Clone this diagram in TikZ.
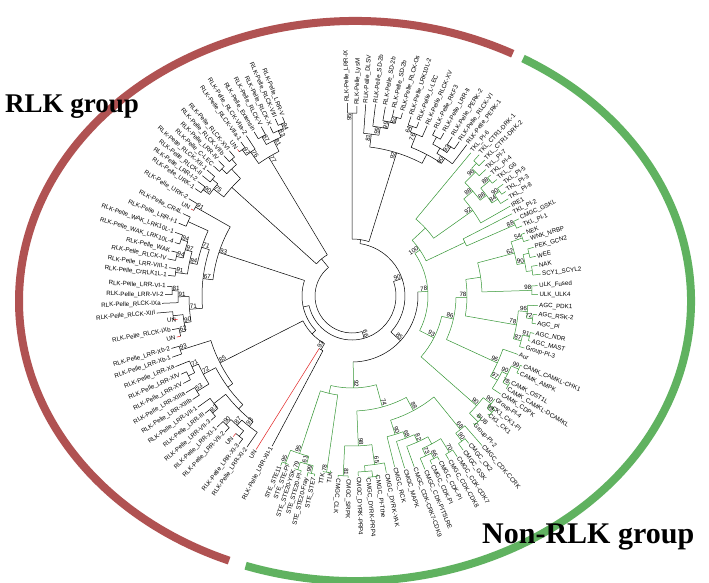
\documentclass[tikz,border=0pt]{standalone}
\usepackage{fontspec}
\setmainfont{Liberation Sans}
\newfontfamily\grpfont{Liberation Serif}
\usepackage{graphicx}
\definecolor{ringred}{RGB}{176,82,82}
\definecolor{ringgreen}{RGB}{96,178,96}
\definecolor{brgreen}{RGB}{52,150,52}
\definecolor{unred}{RGB}{226,30,30}
\tikzset{
  br/.style={line width=0.5pt},
  lab/.style={font=\fontsize{6.2}{7}\selectfont, inner sep=0.5pt},
  bsl/.style={font=\fontsize{6.2}{7}\selectfont, inner sep=0.4pt},
  grp/.style={font=\grpfont\bfseries\fontsize{27}{30}\selectfont, inner sep=0pt},
  grpbig/.style={font=\grpfont\bfseries\fontsize{30}{33}\selectfont, inner sep=0pt},
  ring/.style={line width=8pt}
}
\newif\ifleftlab
\newcommand\mysetside[1]{%
  \pgfmathsetmacro\myphi{mod(#1+720,360)}%
  \leftlabfalse
  \ifdim\myphi pt>92pt \ifdim\myphi pt<264pt \leftlabtrue\fi\fi}
\newcommand\myleaf[5]{%
  \expandafter\xdef\csname nA#1\endcsname{#2}%
  \expandafter\xdef\csname nR#1\endcsname{#3}%
  \expandafter\xdef\csname nC#1\endcsname{#5}%
  \mysetside{#2}%
  \pgfmathsetmacro\myrr{#3+0.8}%
  \ifleftlab
    \pgfmathsetmacro\myrot{#2-180}%
    \node[lab,anchor=east,rotate=\myrot] (#1) at (#2:\myrr pt) {#4};%
  \else
    \node[lab,anchor=west,rotate=#2] (#1) at (#2:\myrr pt) {#4};%
  \fi}
\newcommand\mynode[5]{%
  \gdef\ndfirst{}%
  \foreach \chid in {#4}{%
    \ifx\ndfirst\empty\xdef\ndfirst{\chid}\fi
    \xdef\ndlast{\chid}%
    \edef\chA{\csname nA\chid\endcsname}%
    \edef\chR{\csname nR\chid\endcsname}%
    \edef\chC{\csname nC\chid\endcsname}%
    \draw[br,draw=\chC] (\chA:\chR pt) -- (\chA:#2pt);%
  }%
  \edef\ndA{\csname nA\ndfirst\endcsname}%
  \edef\ndB{\csname nA\ndlast\endcsname}%
  \draw[br,draw=#3] (\ndA:#2pt) arc[start angle=\ndA, end angle=\ndB, radius=#2pt];%
  \pgfmathsetmacro\ndM{(\ndA+\ndB)/2}%
  \expandafter\xdef\csname nA#1\endcsname{\ndM}%
  \expandafter\xdef\csname nR#1\endcsname{#2}%
  \expandafter\xdef\csname nC#1\endcsname{#3}%
  \coordinate (#1) at (\ndM:#2pt);%
  \if\relax\detokenize{#5}\relax\else
    \mysetside{\ndM}%
    \ifleftlab
      \pgfmathsetmacro\myrot{\ndM-180}%
      \node[bsl,anchor=south west,rotate=\myrot] (#1-bs) at (\ndM:#2pt) {#5};%
    \else
      \node[bsl,anchor=south east,rotate=\ndM] (#1-bs) at (\ndM:#2pt) {#5};%
    \fi
  \fi}
\begin{document}
\begin{tikzpicture}
\fill[white] (-352pt,-286pt) rectangle (357pt,296pt);
\useasboundingbox (-352pt,-286pt) rectangle (357pt,296pt);
% outer ring
\draw[ring,ringred] (3pt,-5pt) ++(62:336pt and 280pt) arc[start angle=62, end angle=248, x radius=336pt, y radius=280pt];
\draw[ring,ringgreen] (3pt,-5pt) ++(251:336pt and 280pt) arc[start angle=251, end angle=420, x radius=336pt, y radius=280pt];
\node[grp,anchor=base west] (rlkg) at (-347pt,184pt) {RLK group};
\node[grpbig,anchor=base west] (nrlkg) at (130pt,-247pt) {Non-RLK group};
% ---------- leaves: top black cluster
\myleaf{LRRIX}{451.4}{193}{RLK-Pelle\_LRR-IX}{black}
\myleaf{LysM}{448.5}{190}{RLK-Pelle\_LysM}{black}
\myleaf{DLSV}{445.9}{192}{RLK-Pelle\_DLSV}{black}
\myleaf{SDa}{443.0}{193}{RLK-Pelle\_SD-2b}{black}
\myleaf{SDb}{440.0}{192}{RLK-Pelle\_SD-2b}{black}
\myleaf{SDc}{437.3}{191}{RLK-Pelle\_SD-2b}{black}
\myleaf{Os}{434.6}{190}{RLK-Pelle\_RLCK-Os}{black}
\myleaf{LRKb}{431.8}{189}{RLK-Pelle\_LRK10L-2}{black}
\myleaf{LLEC}{429.0}{186}{RLK-Pelle\_L-LEC}{black}
\myleaf{XV}{426.2}{186}{RLK-Pelle\_RLCK-XV}{black}
\myleaf{RKF}{423.4}{186}{RLK-Pelle\_RKF3}{black}
\myleaf{LRRII}{420.6}{187}{RLK-Pelle\_LRR-II}{black}
\myleaf{PERKb}{417.8}{188}{RLK-Pelle\_PERK-2}{black}
\myleaf{VI}{415.2}{188}{RLK-Pelle\_RLCK-VI}{black}
\myleaf{PERKa}{412.8}{190}{RLK-Pelle\_PERK-1}{black}
% ---------- leaves: green
\myleaf{Pl6}{410.3}{186}{TKL\_Pl-6}{brgreen}
\myleaf{CTRa}{408.0}{190}{TKL\_CTR1-DRK-1}{brgreen}
\myleaf{CTRb}{405.7}{190}{TKL\_CTR1-DRK-2}{brgreen}
\myleaf{Pl7}{403.4}{184}{TKL\_Pl-7}{brgreen}
\myleaf{Pl4}{401.1}{184}{TKL\_Pl-4}{brgreen}
\myleaf{G6}{398.8}{186}{TKL\_G6}{brgreen}
\myleaf{Pl5}{396.5}{188}{TKL\_Pl-5}{brgreen}
\myleaf{Pl3}{394.2}{186}{TKL\_Pl-3}{brgreen}
\myleaf{Pl8}{391.9}{184}{TKL\_Pl-8}{brgreen}
\myleaf{IRE}{389.6}{182}{IRE1}{brgreen}
\myleaf{Pl2}{387.2}{180}{TKL\_Pl-2}{brgreen}
\myleaf{GSKL}{384.8}{184}{CMGC\_GSKL}{brgreen}
\myleaf{Pl1}{382.4}{184}{TKL\_Pl-1}{brgreen}
\myleaf{NEK}{380.0}{184}{NEK}{brgreen}
\myleaf{WNK}{377.6}{186}{WNK\_NRBP}{brgreen}
\myleaf{PEK}{375.0}{188}{PEK\_GCN2}{brgreen}
\myleaf{WEE}{372.2}{188}{WEE}{brgreen}
\myleaf{NAK}{369.4}{188}{NAK}{brgreen}
\myleaf{SCY}{366.6}{190}{SCY1\_SCYL2}{brgreen}
\myleaf{ULKF}{363.2}{186}{ULK\_Fused}{brgreen}
\myleaf{ULKb}{360.4}{186}{ULK\_ULK4}{brgreen}
\myleaf{PDK}{357.0}{186}{AGC\_PDK1}{brgreen}
\myleaf{RSK}{354.2}{186}{AGC\_RSK-2}{brgreen}
\myleaf{AGCPl}{351.4}{186}{AGC\_Pl}{brgreen}
\myleaf{NDR}{348.4}{186}{AGC\_NDR}{brgreen}
\myleaf{MAST}{345.8}{184}{AGC\_MAST}{brgreen}
\myleaf{GPc}{343.2}{180}{Group-Pl-3}{brgreen}
\myleaf{Aur}{340.6}{176}{Aur}{brgreen}
\myleaf{CHK}{337.6}{184}{CAMK\_CAMKL-CHK1}{brgreen}
\myleaf{AMPK}{335.0}{184}{CAMK\_AMPK}{brgreen}
\myleaf{OST}{331.4}{180}{CAMK\_OST1L}{brgreen}
\myleaf{DCAM}{329.0}{180}{CAMK\_CAMKL-DCAMKL}{brgreen}
\myleaf{CDPK}{326.6}{178}{CAMK\_CDPK}{brgreen}
\myleaf{GPd}{324.2}{176}{Group-Pl-4}{brgreen}
\myleaf{CKPl}{321.5}{178}{CK1\_CK1-Pl}{brgreen}
\myleaf{CKa}{319.0}{180}{CK1\_CK1}{brgreen}
\myleaf{BUB}{316.5}{172}{BUB}{brgreen}
\myleaf{GPb}{313.6}{176}{Group-Pl-2}{brgreen}
\myleaf{CCRK}{311.0}{198}{CMGC\_CDK-CCRK}{brgreen}
\myleaf{CKb}{308.4}{188}{CMGC\_CK2}{brgreen}
\myleaf{GSK}{305.8}{190}{CMGC\_GSK}{brgreen}
\myleaf{CDKg}{303.2}{192}{CMGC\_CDK-CDK7}{brgreen}
\myleaf{CDKh}{300.6}{190}{CMGC\_CDK-CDK8}{brgreen}
\myleaf{CDKPa}{298.0}{186}{CMGC\_CDK-Pl}{brgreen}
\myleaf{CDKPb}{295.4}{186}{CMGC\_CDK-Pl}{brgreen}
\myleaf{PITS}{292.8}{188}{CMGC\_CDK-PITSLRE}{brgreen}
\myleaf{CRK}{290.0}{182}{CMGC\_CDK-CRK7-CDK9}{brgreen}
\myleaf{MAPK}{287.0}{180}{CMGC\_MAPK}{brgreen}
\myleaf{RCK}{284.0}{176}{CMGC\_RCK}{brgreen}
\myleaf{YAK}{281.0}{180}{CMGC\_DYRK-YAK}{brgreen}
\myleaf{Tthe}{278.0}{180}{CMGC\_Pl-Tthe}{brgreen}
\myleaf{PRPa}{275.0}{182}{CMGC\_DYRK-PRP4}{brgreen}
\myleaf{PRPb}{272.0}{180}{CMGC\_DYRK-PRP4}{brgreen}
\myleaf{SRPK}{268.8}{182}{CMGC\_SRPK}{brgreen}
\myleaf{CLK}{265.6}{182}{CMGC\_CLK}{brgreen}
\myleaf{TLK}{263.0}{176}{TLK}{brgreen}
\myleaf{TTK}{260.6}{178}{TTK}{brgreen}
\myleaf{STEg}{258.2}{184}{STE\_STE7}{brgreen}
\myleaf{Fray}{256.0}{186}{STE\_STE20-Fray}{brgreen}
\myleaf{STEPlb}{253.8}{184}{STE\_STE20-Pl}{brgreen}
\myleaf{YSK}{251.6}{182}{STE\_STE20-YSK}{brgreen}
\myleaf{STEPl}{249.4}{180}{STE\_STE-Pl}{brgreen}
\myleaf{STEk}{247.2}{184}{STE\_STE11}{brgreen}
% ---------- leaves: lower-left black cluster
\myleaf{XIIa}{242.0}{170}{RLK-Pelle\_LRR-XII-1}{black}
\myleaf{UNf}{238.0}{181}{UN}{unred}
\myleaf{XIb}{235.2}{184}{RLK-Pelle\_LRR-XI-2}{black}
\myleaf{XIc}{232.6}{186}{RLK-Pelle\_LRR-XI-3}{black}
\myleaf{UNe}{229.8}{184}{UN}{unred}
\myleaf{VIIbb}{227.0}{186}{RLK-Pelle\_LRR-VII-2}{black}
\myleaf{XIa}{224.2}{188}{RLK-Pelle\_LRR-XI-1}{black}
\myleaf{VIIc}{221.4}{188}{RLK-Pelle\_LRR-VII-3}{black}
\myleaf{LIII}{218.6}{188}{RLK-Pelle\_LRR-III}{black}
\myleaf{VIIaa}{215.8}{190}{RLK-Pelle\_LRR-VII-1}{black}
\myleaf{XIIIb}{213.0}{190}{RLK-Pelle\_LRR-XIIIb}{black}
\myleaf{XIIIa}{210.2}{192}{RLK-Pelle\_LRR-XIIIa}{black}
\myleaf{LXV}{207.4}{190}{RLK-Pelle\_LRR-XV}{black}
\myleaf{XIV}{204.6}{188}{RLK-Pelle\_LRR-XIV}{black}
\myleaf{Xa}{201.8}{190}{RLK-Pelle\_LRR-Xa}{black}
\myleaf{Xba}{198.8}{190}{RLK-Pelle\_LRR-Xb-1}{black}
\myleaf{Xbb}{196.2}{188}{RLK-Pelle\_LRR-Xb-2}{black}
% ---------- leaves: left black cluster
\myleaf{UNd}{193.2}{180}{UN}{unred}
\myleaf{IXb}{190.6}{183}{RLK-Pelle\_RLCK-IXb}{black}
\myleaf{UNc}{187.6}{176}{UN}{unred}
\myleaf{XIII}{185.0}{196}{RLK-Pelle\_RLCK-XIII}{black}
\myleaf{IXa}{182.2}{190}{RLK-Pelle\_RLCK-IXa}{black}
\myleaf{VIb}{179.6}{187}{RLK-Pelle\_LRR-VI-2}{black}
\myleaf{VIa}{177.0}{185}{RLK-Pelle\_LRR-VI-1}{black}
\myleaf{CrR}{173.6}{185}{RLK-Pelle\_CrRLK1L-1}{black}
\myleaf{VIII}{171.2}{185}{RLK-Pelle\_LRR-VIII-1}{black}
\myleaf{RIV}{168.6}{188}{RLK-Pelle\_RLCK-IV}{black}
\myleaf{WAK}{166.0}{186}{RLK-Pelle\_WAK}{black}
\myleaf{LKd}{163.2}{185}{RLK-Pelle\_WAK\_LRK10L-4}{black}
\myleaf{LKa}{160.2}{188}{RLK-Pelle\_WAK\_LRK10L-1}{black}
\myleaf{LRRIa}{157.2}{188}{RLK-Pelle\_LRR-I-1}{black}
\myleaf{CRL}{154.0}{188}{RLK-Pelle\_CR4L}{black}
\myleaf{UNb}{151.6}{183}{UN}{unred}
\myleaf{URKb}{149.2}{190}{RLK-Pelle\_URK-2}{black}
% ---------- leaves: upper-left black cluster
\myleaf{URKa}{145.6}{190}{RLK-Pelle\_URK-1}{black}
\myleaf{LRRIb}{143.4}{192}{RLK-Pelle\_LRR-I-2}{black}
\myleaf{RII}{141.2}{192}{RLK-Pelle\_RLCK-II}{black}
\myleaf{RXII}{139.0}{192}{RLK-Pelle\_RLCK-XII-1}{black}
\myleaf{CLEC}{136.8}{190}{RLK-Pelle\_C-LEC}{black}
\myleaf{LRRIV}{134.6}{190}{RLK-Pelle\_LRR-IV}{black}
\myleaf{VIIb}{132.4}{190}{RLK-Pelle\_RLCK-VIIb}{black}
\myleaf{XVI}{130.2}{190}{RLK-Pelle\_RLCK-XVI}{black}
\myleaf{UNa}{128.0}{186}{UN}{unred}
\myleaf{VIIa}{125.8}{190}{RLK-Pelle\_RLCK-VIIa-1}{black}
\myleaf{VIIab}{123.4}{192}{RLK-Pelle\_RLCK-VIIa-2}{black}
\myleaf{Ext}{120.8}{191}{RLK-Pelle\_Extensin}{black}
\myleaf{RV}{118.2}{192}{RLK-Pelle\_RLCK-V}{black}
\myleaf{RX}{115.8}{188}{RLK-Pelle\_RLCK-X}{black}
\myleaf{RVIII}{113.4}{193}{RLK-Pelle\_RLCK-VIII}{black}
\myleaf{LRRV}{111.2}{192}{RLK-Pelle\_LRR-V}{black}
% ---------- internal nodes: top black
\mynode{b95}{183}{black}{LRRIX,LysM}{95}
\mynode{b82}{184}{black}{SDc,Os}{82}
\mynode{b99a}{178}{black}{SDb,b82}{99}
\mynode{b99b}{171}{black}{SDa,b99a}{99}
\mynode{b81}{163}{black}{DLSV,b99b}{81}
\mynode{b64}{180}{black}{LRKb,LLEC}{64}
\mynode{b76}{174}{black}{b64,XV}{76}
\mynode{bRK}{180}{black}{RKF,LRRII}{}
\mynode{b93}{179}{black}{PERKb,VI}{93}
\mynode{b63}{172}{black}{bRK,b93}{}
\mynode{b90}{166}{black}{b63,PERKa}{90}
\mynode{bPK}{160}{black}{b76,b90}{}
\mynode{b96}{150}{black}{b81,bPK}{92}
\mynode{bTop}{57}{black}{b95,b96}{}
% upper-left black
\mynode{u94}{186}{black}{RVIII,LRRV}{94}
\mynode{u83}{181}{black}{RX,u94}{83}
\mynode{u87}{183}{black}{Ext,RV}{87}
\mynode{u81}{174}{black}{u87,u83}{81}
\mynode{u97}{183}{black}{UNa,VIIa}{97}
\mynode{u76}{176}{black}{VIIab,u97}{76}
\mynode{u77}{162}{black}{u81,u76}{77}
\mynode{ua}{182}{black}{XVI,VIIb}{}
\mynode{ub}{182}{black}{LRRIV,CLEC}{}
\mynode{uc}{175}{black}{ua,ub}{}
\mynode{ud}{182}{black}{RXII,RII}{}
\mynode{u90}{183}{black}{LRRIb,URKa}{90}
\mynode{u75}{175}{black}{ud,u90}{75}
\mynode{ue}{162}{black}{uc,u75}{}
\mynode{uUL}{48}{black}{u77,ue}{}
% left black
\mynode{l91}{180}{black}{URKb,UNb}{91}
\mynode{lCR}{180}{black}{CRL,LRRIa}{}
\mynode{l94a}{180}{black}{LKa,LKd}{94}
\mynode{l94b}{180}{black}{WAK,RIV}{94}
\mynode{l97}{173}{black}{l94a,l94b}{97}
\mynode{l91b}{178}{black}{VIII,CrR}{91}
\mynode{l84}{166}{black}{l97,l91b}{84}
\mynode{l71}{158}{black}{lCR,l84}{71}
\mynode{l81}{180}{black}{VIa,VIb}{81}
\mynode{l91c}{174}{black}{l81,IXa}{91}
\mynode{lX}{180}{black}{XIII,UNc}{}
\mynode{l62}{176}{black}{IXb,UNd}{62}
\mynode{l90}{170}{black}{lX,l62}{90}
\mynode{l71b}{163}{black}{l91c,l90}{71}
\mynode{l67}{150}{black}{l71,l71b}{67}
\mynode{l93}{140}{black}{l91,l67}{93}
% lower-left black
\mynode{d93}{180}{black}{Xbb,Xba}{93}
\mynode{dA}{182}{black}{XIV,LXV}{}
\mynode{d71}{175}{black}{Xa,dA}{71}
\mynode{d53}{182}{black}{XIIIa,XIIIb}{53}
\mynode{d72}{168}{black}{d71,d53}{72}
\mynode{d83}{182}{black}{LIII,VIIc}{83}
\mynode{dV}{175}{black}{VIIaa,d83}{}
\mynode{d90}{180}{black}{XIa,VIIbb}{90}
\mynode{dU}{180}{black}{UNe,XIc}{}
\mynode{d87}{173}{black}{d90,dU}{87}
\mynode{d93b}{166}{black}{d87,XIb}{93}
\mynode{dB}{160}{black}{dV,d93b}{}
\mynode{d85a}{154}{black}{d72,dB}{}
\mynode{d85}{148}{black}{d93,d85a}{85}
\mynode{cUX}{62}{black}{UNf,XIIa}{93}
\mynode{sA}{55}{black}{d85,cUX}{}
\mynode{sL}{50}{black}{l93,sA}{}
% green
\mynode{t1}{182}{brgreen}{CTRa,CTRb}{}
\mynode{t2}{175}{brgreen}{t1,Pl7}{96}
\mynode{t3}{180}{brgreen}{Pl4,G6}{88}
\mynode{t4}{181}{brgreen}{Pl5,Pl3}{90}
\mynode{t5}{175}{brgreen}{t4,Pl8}{84}
\mynode{t6}{168}{brgreen}{t3,t5}{88}
\mynode{t7}{160}{brgreen}{t2,t6}{88}
\mynode{t8}{148}{brgreen}{t7,IRE}{92}
\mynode{t9}{100}{brgreen}{Pl6,t8}{}
\mynode{tG}{178}{brgreen}{GSKL,Pl1}{88}
\mynode{t10}{125}{brgreen}{Pl2,tG}{}
\mynode{t11}{82}{brgreen}{t9,t10}{100}
\mynode{g54}{180}{brgreen}{NEK,WNK}{54}
\mynode{gPW}{182}{brgreen}{PEK,WEE}{}
\mynode{gNS}{182}{brgreen}{NAK,SCY}{}
\mynode{g90}{176}{brgreen}{gPW,gNS}{90}
\mynode{g62}{168}{brgreen}{g54,g90}{62}
\mynode{gULK}{180}{brgreen}{ULKF,ULKb}{98}
\mynode{g72}{182}{brgreen}{RSK,AGCPl}{72}
\mynode{g96}{176}{brgreen}{PDK,g72}{96}
\mynode{g91}{182}{brgreen}{NDR,MAST}{91}
\mynode{g87}{175}{brgreen}{g91,GPc}{87}
\mynode{gAGC}{167}{brgreen}{g96,g87}{78}
\mynode{c99}{182}{brgreen}{CHK,AMPK}{99}
\mynode{c78}{180}{brgreen}{OST,DCAM}{78}
\mynode{c90}{174}{brgreen}{c99,c78}{90}
\mynode{c97}{168}{brgreen}{c90,CDPK}{97}
\mynode{c96}{160}{brgreen}{Aur,c97}{96}
\mynode{k99}{182}{brgreen}{CKPl,CKa}{99}
\mynode{k90}{176}{brgreen}{GPd,k99}{90}
\mynode{k3}{178}{brgreen}{BUB,GPb}{}
\mynode{k4}{166}{brgreen}{k90,k3}{90}
\mynode{k5}{182}{brgreen}{CKb,GSK}{90}
\mynode{k6}{172}{brgreen}{CCRK,k5}{68}
\mynode{m1}{184}{brgreen}{CDKg,CDKh}{70}
\mynode{m2}{182}{brgreen}{CDKPa,CDKPb}{86}
\mynode{m3}{176}{brgreen}{m2,PITS}{73}
\mynode{m4}{168}{brgreen}{m1,m3}{}
\mynode{m5}{160}{brgreen}{m4,CRK}{82}
\mynode{m6}{152}{brgreen}{m5,MAPK}{68}
\mynode{m7}{145}{brgreen}{m6,RCK}{90}
\mynode{y1}{182}{brgreen}{Tthe,PRPa}{}
\mynode{y2}{176}{brgreen}{y1,PRPb}{}
\mynode{y3}{170}{brgreen}{YAK,y2}{65}
\mynode{y4}{180}{brgreen}{SRPK,CLK}{81}
\mynode{y5}{150}{brgreen}{y3,y4}{98}
\mynode{cma}{130}{brgreen}{k6,m7}{88}
\mynode{cmb}{115}{brgreen}{cma,y5}{74}
\mynode{st1}{182}{brgreen}{STEg,Fray}{99}
\mynode{st2}{182}{brgreen}{STEPlb,YSK}{79}
\mynode{st3}{174}{brgreen}{st1,st2}{61}
\mynode{st4}{180}{brgreen}{STEPl,STEk}{95}
\mynode{st5}{166}{brgreen}{st3,st4}{95}
\mynode{tt}{178}{brgreen}{TLK,TTK}{78}
\mynode{st6}{100}{brgreen}{tt,st5}{}
\mynode{gLow}{92}{brgreen}{cmb,st6}{92}
\mynode{gMa}{130}{brgreen}{g62,gULK}{}
\mynode{gMb}{115}{brgreen}{gMa,gAGC}{78}
\mynode{gMc}{104}{brgreen}{gMb,c96}{86}
\mynode{gMd}{92}{brgreen}{gMc,k4}{93}
\mynode{gUp}{76}{brgreen}{t11,gMd}{78}
\mynode{gR}{66}{black}{gLow,gUp}{85}
% centre
\mynode{sR}{53}{black}{gR,bTop}{90}
\mynode{X}{44}{black}{sL,sR}{66}
\mynode{root}{37}{black}{uUL,X}{}
\end{tikzpicture}
\end{document}
